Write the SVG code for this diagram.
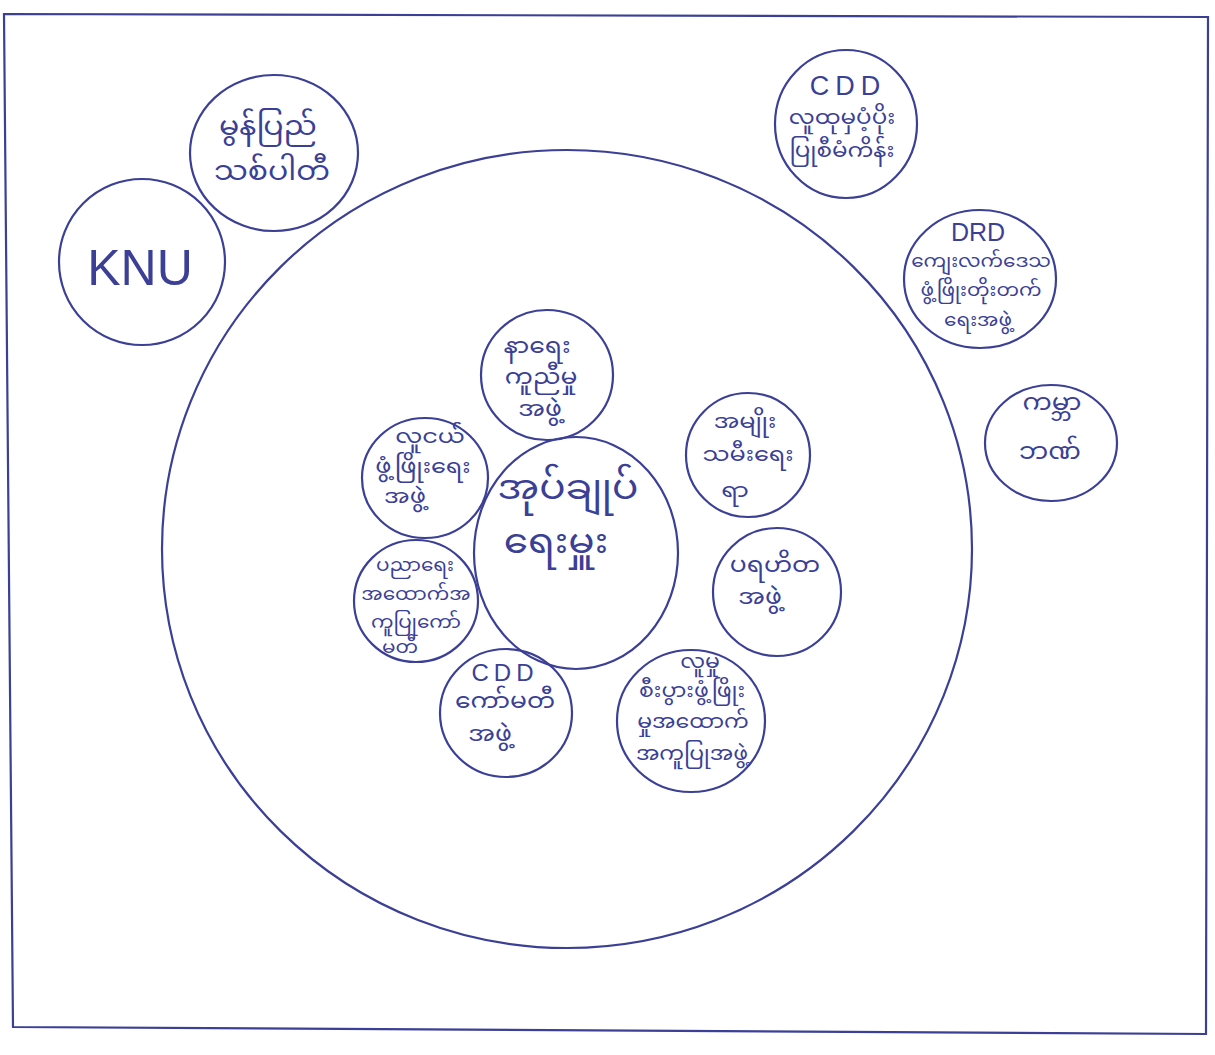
<svg xmlns="http://www.w3.org/2000/svg" width="1215" height="1055" viewBox="0 0 1215 1055">
<style>
.s{fill:none;stroke:#3b3f96;stroke-width:2.2}
.t{fill:#3b3f96;font-family:"Noto Sans Myanmar UI","Noto Sans Myanmar","Padauk","Myanmar Text",sans-serif;text-anchor:middle}
.l{fill:#3b3f96;font-family:"Liberation Sans",sans-serif;text-anchor:middle}
</style>
<rect width="1215" height="1055" fill="#ffffff"/>
<path class="s" d="M4,14 L1208,17 L1206,1034 L13,1027 Z"/>
<g id="frame-circle"><ellipse class="s" cx="567" cy="549" rx="405" ry="399"/></g>
<g id="connectors"></g>
<g id="knu"><circle class="s" cx="142" cy="262" r="83"/><text class="l" x="140" y="285" style="font-size:50px">KNU</text></g>
<g id="nmsp"><ellipse class="s" cx="274" cy="153" rx="84" ry="78"/><text class="t" x="268" y="139" style="font-size:30px">မွန်ပြည်</text><text class="t" x="272" y="184" style="font-size:30px">သစ်ပါတီ</text></g>
<g id="cdd-top"><ellipse class="s" cx="846" cy="124" rx="71" ry="74"/><text class="l" x="848" y="95" style="font-size:27px;letter-spacing:6px">CDD</text><text class="t" x="842" y="128" style="font-size:23px">လူထုမှပံ့ပိုး</text><text class="t" x="842" y="161" style="font-size:23px">ပြုစီမံကိန်း</text></g>
<g id="drd"><ellipse class="s" cx="980" cy="279" rx="76" ry="69"/><text class="l" x="978" y="241" style="font-size:25px">DRD</text><text class="t" x="981" y="270" style="font-size:20px">ကျေးလက်ဒေသ</text><text class="t" x="981" y="299" style="font-size:20px">ဖွံ့ဖြိုးတိုးတက်</text><text class="t" x="978" y="329" style="font-size:20px">ရေးအဖွဲ့</text></g>
<g id="worldbank"><ellipse class="s" cx="1051" cy="443" rx="66" ry="58"/><text class="t" x="1052" y="414" style="font-size:26px">ကမ္ဘာ</text><text class="t" x="1050" y="463" style="font-size:26px">ဘဏ်</text></g>
<g id="center"><ellipse class="s" cx="576" cy="553" rx="102" ry="116"/><text class="t" x="568" y="505" style="font-size:39px">အုပ်ချုပ်</text><text class="t" x="556" y="559" style="font-size:39px">ရေးမှူး</text></g>
<g id="naye"><ellipse class="s" cx="547" cy="375" rx="66" ry="65"/><text class="t" x="537" y="357" style="font-size:25px">နာရေး</text><text class="t" x="541" y="388" style="font-size:25px">ကူညီမှု</text><text class="t" x="540" y="420" style="font-size:25px">အဖွဲ့</text></g>
<g id="youth"><ellipse class="s" cx="425" cy="478" rx="63" ry="60"/><text class="t" x="430" y="447" style="font-size:24px">လူငယ်</text><text class="t" x="423" y="477" style="font-size:24px">ဖွံ့ဖြိုးရေး</text><text class="t" x="405" y="507" style="font-size:24px">အဖွဲ့</text></g>
<g id="women"><ellipse class="s" cx="748" cy="455" rx="62" ry="62"/><text class="t" x="745" y="432" style="font-size:24px">အမျိုး</text><text class="t" x="748" y="465" style="font-size:24px">သမီးရေး</text><text class="t" x="735" y="501" style="font-size:24px">ရာ</text></g>
<g id="education"><ellipse class="s" cx="416" cy="601" rx="62" ry="61"/><text class="t" x="415" y="574" style="font-size:20px">ပညာရေး</text><text class="t" x="416" y="603" style="font-size:20px">အထောက်အ</text><text class="t" x="416" y="631" style="font-size:20px">ကူပြုကော်</text><text class="t" x="400" y="656" style="font-size:20px">မတီ</text></g>
<g id="charity"><ellipse class="s" cx="777" cy="592" rx="64" ry="64"/><text class="t" x="775" y="576" style="font-size:25px">ပရဟိတ</text><text class="t" x="760" y="608" style="font-size:25px">အဖွဲ့</text></g>
<g id="cdd-committee"><ellipse class="s" cx="506" cy="713" rx="66" ry="64"/><text class="l" x="505" y="681" style="font-size:24px;letter-spacing:5px">CDD</text><text class="t" x="505" y="712" style="font-size:25px">ကော်မတီ</text><text class="t" x="490" y="745" style="font-size:25px">အဖွဲ့</text></g>
<g id="socioeconomic"><ellipse class="s" cx="691" cy="721" rx="74" ry="71"/><text class="t" x="700" y="671" style="font-size:22px">လူမှု</text><text class="t" x="692" y="700" style="font-size:22px">စီးပွားဖွံ့ဖြိုး</text><text class="t" x="693" y="731" style="font-size:22px">မှုအထောက်</text><text class="t" x="692" y="763" style="font-size:22px">အကူပြုအဖွဲ့</text></g>
</svg>
